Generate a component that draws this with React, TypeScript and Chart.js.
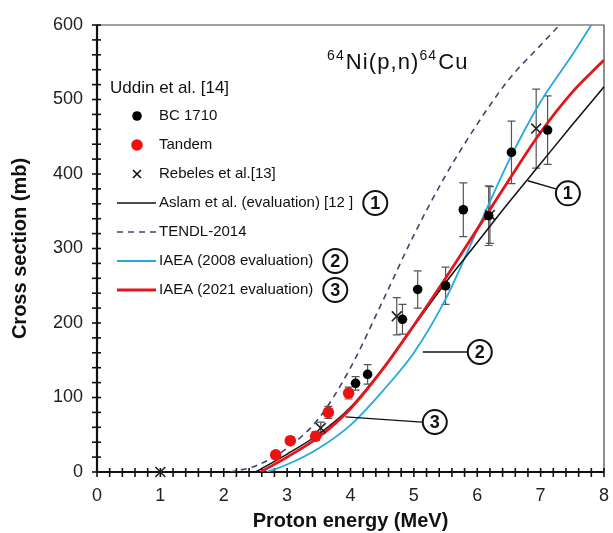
import React, { useEffect, useRef } from "react";
import { Chart, registerables } from "chart.js";

Chart.register(...registerables);

const FONT = "'Liberation Sans', Arial, Helvetica, sans-serif";

// ---- data ----
const bcEnergy = [4.08, 4.27, 4.82, 5.06, 5.5, 5.78, 6.18, 6.54, 7.11];
const bcSigma = [119, 131, 205, 245, 250, 352, 344, 429, 459];
const bcErr = [9, 13, 20, 25, 25, 36, 40, 42, 46];

const tandemEnergy = [2.82, 3.05, 3.45, 3.65, 3.97];
const tandemSigma = [23, 42, 48, 80, 106];
const tandemErr = [4, 5, 6, 8, 8];

const rebelesEnergy = [1.0, 3.53, 4.73, 6.2, 6.93];
const rebelesSigma = [0, 59, 209, 345, 461];
const rebelesErr = [0, 8, 25, 38, 53];

const aslamEnergy = [2.5, 3.0, 3.5, 4.0, 4.5, 5.0, 5.5, 6.0, 6.5, 7.0, 7.5, 8.0];
const aslamSigma = [0, 24, 51, 87, 138, 196, 254, 308, 362, 414, 466, 517];

const tendlEnergy = [2.1, 2.5, 3.0, 3.5, 4.0, 4.5, 5.0, 5.5, 6.0, 6.5, 7.0, 7.3];
const tendlSigma = [0, 8, 32, 72, 140, 228, 318, 398, 467, 527, 573, 600];

const iaea2008Energy = [2.68, 3.0, 3.5, 4.0, 4.5, 5.0, 5.5, 6.0, 6.5, 7.0, 7.5, 7.8];
const iaea2008Sigma = [0, 10, 32, 63, 108, 160, 232, 325, 418, 497, 560, 600];

const iaea2021Energy = [2.58, 3.0, 3.5, 4.0, 4.5, 5.0, 5.5, 6.0, 6.5, 7.0, 7.5, 8.0];
const iaea2021Sigma = [0, 20, 47, 85, 137, 197, 260, 326, 392, 456, 510, 553];

const legendHeader = "Uddin et al. [14]";
const labels = {
  bc: "BC 1710",
  tandem: "Tandem",
  rebeles: "Rebeles et al.[13]",
  aslam: "Aslam et al. (evaluation) [12 ]",
  tendl: "TENDL-2014",
  i2008: "IAEA (2008 evaluation)",
  i2021: "IAEA (2021 evaluation)",
};

const xTitle = "Proton energy (MeV)";
const yTitle = "Cross section (mb)";

function pts(xs: number[], ys: number[], errs?: number[]) {
  return xs.map((x, i) => ({ x, y: ys[i], err: errs ? errs[i] : 0 }));
}

// callouts in value coordinates: [fromX, fromY, toX, toY, circleX, circleY, label]
const callouts: [number, number, number, number, number, number, string][] = [
  [6.8, 391, 7.24, 380, 7.43, 374, "1"],
  [5.14, 161, 5.85, 161, 6.04, 161, "2"],
  [3.92, 74, 5.13, 67, 5.33, 67, "3"],
];

function drawCircled(ctx: CanvasRenderingContext2D, cx: number, cy: number, n: string) {
  ctx.save();
  ctx.beginPath();
  ctx.arc(cx, cy, 12, 0, Math.PI * 2);
  ctx.fillStyle = "#fff";
  ctx.fill();
  ctx.lineWidth = 2;
  ctx.strokeStyle = "#111";
  ctx.stroke();
  ctx.fillStyle = "#111";
  ctx.font = `bold 18px ${FONT}`;
  ctx.textAlign = "center";
  ctx.textBaseline = "middle";
  ctx.fillText(n, cx, cy + 1);
  ctx.restore();
}

const errorBarPlugin = {
  id: "errorBars",
  beforeDatasetsDraw(chart: any) {
    const { ctx, scales } = chart;
    const xs = scales.x;
    const ys = scales.y;
    ctx.save();
    ctx.strokeStyle = "#555";
    ctx.lineWidth = 1.2;
    chart.data.datasets.forEach((ds: any) => {
      if (!ds.errorBars) return;
      ds.data.forEach((d: any) => {
        if (!d.err) return;
        const px = xs.getPixelForValue(d.x);
        const top = ys.getPixelForValue(d.y + d.err);
        const bot = ys.getPixelForValue(d.y - d.err);
        ctx.beginPath();
        ctx.moveTo(px, top);
        ctx.lineTo(px, bot);
        ctx.moveTo(px - 4, top);
        ctx.lineTo(px + 4, top);
        ctx.moveTo(px - 4, bot);
        ctx.lineTo(px + 4, bot);
        ctx.stroke();
      });
    });
    ctx.restore();
  },
};

const framePlugin = {
  id: "frameTicks",
  beforeDatasetsDraw(chart: any) {
    const { ctx, chartArea, scales } = chart;
    const { left, right, top, bottom } = chartArea;
    ctx.save();
    ctx.strokeStyle = "#444";
    ctx.lineWidth = 1.2;
    ctx.beginPath();
    ctx.moveTo(left, top);
    ctx.lineTo(right, top);
    ctx.lineTo(right, bottom);
    ctx.stroke();
    ctx.strokeStyle = "#111";
    ctx.lineWidth = 1.6;
    scales.x.ticks.forEach((t: any) => {
      const px = scales.x.getPixelForValue(t.value);
      ctx.beginPath();
      ctx.moveTo(px, bottom - 4);
      ctx.lineTo(px, bottom + 5);
      ctx.stroke();
    });
    scales.y.ticks.forEach((t: any) => {
      const py = scales.y.getPixelForValue(t.value);
      ctx.beginPath();
      ctx.moveTo(left - 5, py);
      ctx.lineTo(left + 4, py);
      ctx.stroke();
    });
    ctx.lineWidth = 2.2;
    ctx.beginPath();
    ctx.moveTo(left, top);
    ctx.lineTo(left, bottom);
    ctx.lineTo(right, bottom);
    ctx.stroke();
    ctx.restore();
  },
};

const calloutPlugin = {
  id: "callouts",
  afterDatasetsDraw(chart: any) {
    const { ctx, scales } = chart;
    const xs = scales.x;
    const ys = scales.y;
    ctx.save();
    ctx.strokeStyle = "#111";
    ctx.lineWidth = 1.4;
    callouts.forEach(([fx, fy, tx, ty, cx, cy, n]) => {
      ctx.beginPath();
      ctx.moveTo(xs.getPixelForValue(fx), ys.getPixelForValue(fy));
      ctx.lineTo(xs.getPixelForValue(tx), ys.getPixelForValue(ty));
      ctx.stroke();
      drawCircled(ctx, xs.getPixelForValue(cx), ys.getPixelForValue(cy), n);
    });
    ctx.restore();
  },
};

const legendOrder: [number, string | null][] = [
  [0, null],
  [1, null],
  [2, null],
  [4, "1"],
  [6, null],
  [5, "2"],
  [3, "3"],
];

const legendPlugin = {
  id: "customLegend",
  afterDraw(chart: any) {
    const ctx = chart.ctx as CanvasRenderingContext2D;
    ctx.save();
    ctx.fillStyle = "#111";
    ctx.textBaseline = "middle";
    ctx.textAlign = "left";
    ctx.font = `17px ${FONT}`;
    ctx.fillText(legendHeader, 110, 88);
    ctx.font = `15px ${FONT}`;
    legendOrder.forEach(([di, circ], i) => {
      const ds = chart.data.datasets[di];
      const y = 116 + i * 29;
      if (ds.showLine) {
        ctx.save();
        ctx.strokeStyle = ds.borderColor;
        ctx.lineWidth = ds.borderWidth;
        ctx.setLineDash(ds.borderDash || []);
        ctx.beginPath();
        ctx.moveTo(117, y);
        ctx.lineTo(156, y);
        ctx.stroke();
        ctx.restore();
      } else if (ds.pointStyle === "crossRot") {
        ctx.save();
        ctx.strokeStyle = "#111";
        ctx.lineWidth = 1.6;
        ctx.beginPath();
        ctx.moveTo(133, y - 4);
        ctx.lineTo(141, y + 4);
        ctx.moveTo(141, y - 4);
        ctx.lineTo(133, y + 4);
        ctx.stroke();
        ctx.restore();
      } else {
        ctx.save();
        ctx.fillStyle = ds.pointBackgroundColor;
        ctx.beginPath();
        ctx.arc(137, y, ds.pointRadius, 0, Math.PI * 2);
        ctx.fill();
        ctx.restore();
      }
      ctx.fillStyle = "#111";
      ctx.fillText(ds.label, 159, y);
      if (circ) {
        const w = ctx.measureText(ds.label).width;
        drawCircled(ctx, 159 + w + 22, y, circ);
      }
    });
    ctx.restore();
  },
};

const titlePlugin = {
  id: "reactionTitle",
  afterDraw(chart: any) {
    const ctx = chart.ctx as any;
    ctx.save();
    ctx.fillStyle = "#111";
    ctx.textBaseline = "alphabetic";
    ctx.textAlign = "left";
    try {
      ctx.letterSpacing = "1.1px";
    } catch (e) {}
    const parts: [string, boolean][] = [
      ["64", true],
      ["Ni(p,n)", false],
      ["64", true],
      ["Cu", false],
    ];
    let x = 327;
    const base = 69;
    parts.forEach(([s, sup]) => {
      ctx.font = sup ? `14px ${FONT}` : `22px ${FONT}`;
      ctx.fillText(s, x, sup ? base - 9 : base);
      x += ctx.measureText(s).width + (sup ? 1 : 0);
    });
    ctx.restore();
  },
};

export default function App() {
  const ref = useRef<HTMLCanvasElement | null>(null);

  useEffect(() => {
    if (!ref.current) return;
    const lineBase = {
      showLine: true,
      pointRadius: 0,
      pointHoverRadius: 0,
      cubicInterpolationMode: "monotone" as const,
      fill: false,
    };
    const chart = new Chart(ref.current, {
      type: "scatter",
      data: {
        datasets: [
          {
            label: labels.bc,
            data: pts(bcEnergy, bcSigma, bcErr),
            pointStyle: "circle",
            pointRadius: 4.8,
            pointBackgroundColor: "#000",
            pointBorderColor: "#000",
            pointBorderWidth: 0,
            showLine: false,
            errorBars: true,
            clip: false,
          } as any,
          {
            label: labels.tandem,
            data: pts(tandemEnergy, tandemSigma, tandemErr),
            pointStyle: "circle",
            pointRadius: 5.8,
            pointBackgroundColor: "#ee1111",
            pointBorderColor: "#ee1111",
            pointBorderWidth: 0,
            showLine: false,
            errorBars: true,
            clip: false,
          } as any,
          {
            label: labels.rebeles,
            data: pts(rebelesEnergy, rebelesSigma, rebelesErr),
            pointStyle: "crossRot",
            pointRadius: 7,
            pointBorderColor: "#222",
            pointBackgroundColor: "#222",
            pointBorderWidth: 1.6,
            showLine: false,
            errorBars: true,
            clip: false,
          } as any,
          {
            ...lineBase,
            label: labels.i2021,
            data: pts(iaea2021Energy, iaea2021Sigma),
            borderColor: "#e3161c",
            borderWidth: 2.8,
          } as any,
          {
            ...lineBase,
            label: labels.aslam,
            data: pts(aslamEnergy, aslamSigma),
            borderColor: "#111",
            borderWidth: 1.5,
          } as any,
          {
            ...lineBase,
            label: labels.i2008,
            data: pts(iaea2008Energy, iaea2008Sigma),
            borderColor: "#25a9dc",
            borderWidth: 1.8,
          } as any,
          {
            ...lineBase,
            label: labels.tendl,
            data: pts(tendlEnergy, tendlSigma),
            borderColor: "#3b4668",
            borderWidth: 1.6,
            borderDash: [6, 5],
          } as any,
        ],
      },
      options: {
        animation: false,
        responsive: false,
        devicePixelRatio: 1,
        layout: { padding: { top: 25, right: 9, left: 0, bottom: 0 } },
        plugins: {
          legend: { display: false },
          tooltip: { enabled: false },
          title: { display: false },
        },
        events: [],
        scales: {
          x: {
            type: "linear",
            min: 0,
            max: 8,
            grid: { display: false, drawTicks: false },
            border: { display: false },
            ticks: {
              stepSize: 0.2,
              autoSkip: false,
              maxRotation: 0,
              padding: 13,
              color: "#222",
              font: { family: FONT, size: 18 },
              callback: (v: any) => {
                const n = Number(v);
                return Math.abs(n - Math.round(n)) < 1e-6 ? String(Math.round(n)) : "";
              },
            },
            title: {
              display: true,
              text: xTitle,
              color: "#111",
              font: { family: FONT, size: 20, weight: "bold" },
              padding: { top: 0, bottom: 0 },
            },
            afterFit: (s: any) => {
              s.height = 61;
              s.paddingRight = 0;
              s.paddingLeft = 0;
            },
          },
          y: {
            type: "linear",
            min: 0,
            max: 600,
            grid: { display: false, drawTicks: false },
            border: { display: false },
            ticks: {
              stepSize: 20,
              autoSkip: false,
              padding: 14,
              color: "#222",
              font: { family: FONT, size: 18 },
              callback: (v: any) => {
                const n = Number(v);
                return Math.abs(n / 100 - Math.round(n / 100)) < 1e-6 ? String(Math.round(n)) : "";
              },
            },
            title: {
              display: true,
              text: yTitle,
              color: "#111",
              font: { family: FONT, size: 20, weight: "bold" },
              padding: { top: 8, bottom: 0 },
            },
            afterFit: (s: any) => {
              s.width = 97;
            },
          },
        },
      } as any,
      plugins: [framePlugin, errorBarPlugin, calloutPlugin, legendPlugin, titlePlugin],
    });
    return () => chart.destroy();
  }, []);

  return (
    <div style={{ position: "fixed", left: 0, top: 0, width: 613, height: 533, background: "#fff" }}>
      <canvas ref={ref} width={613} height={533} />
    </div>
  );
}
